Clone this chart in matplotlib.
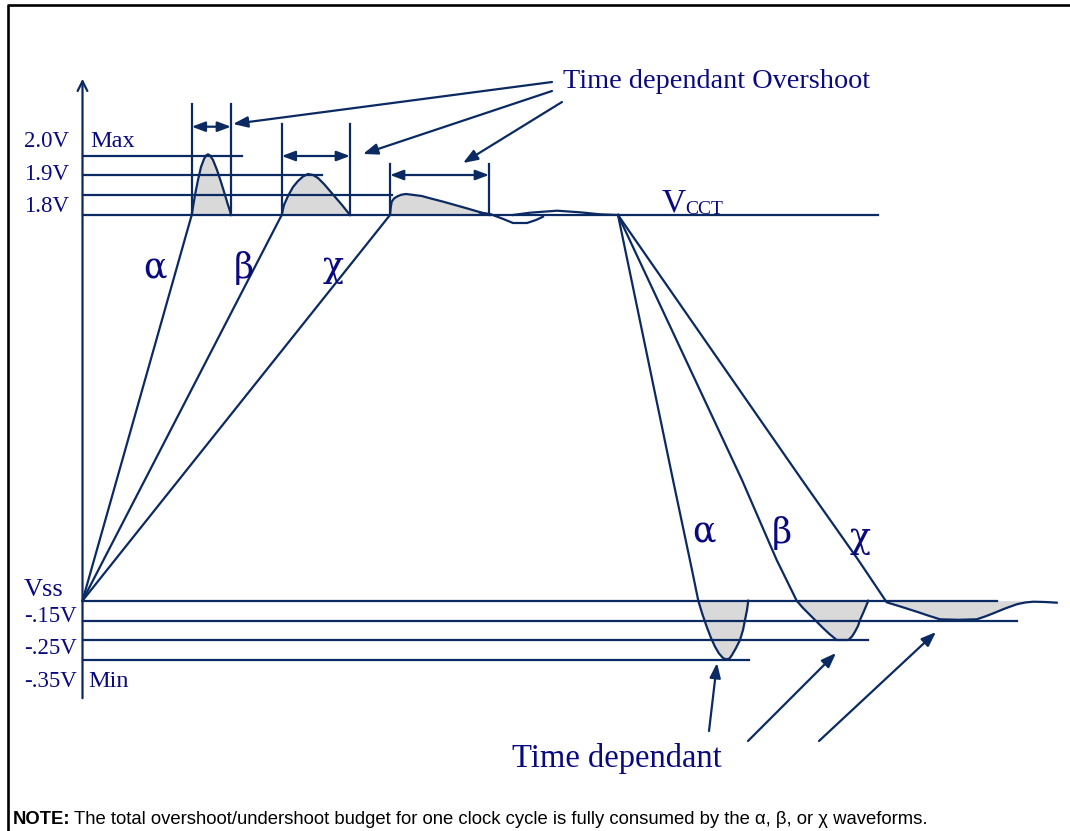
import numpy as np
import matplotlib.pyplot as plt

##colours and fonts
line_c = '#0b2a62'
text_c = '#0a0a80'
fill_c = '#d9d9d9'
serif = ['Liberation Serif', 'DejaVu Serif']
sans = ['Liberation Sans', 'DejaVu Sans']

##levels (diagram y units = pixels from top)
level_names = ['2.0V', '1.9V', '1.8V', 'VCCT', 'Vss', '-.15V', '-.25V', '-.35V']
level_y = [155.7, 175.3, 195, 215, 600.7, 620.7, 640, 660]
level_end = [242, 322, 392, 878, 997, 1017, 868, 749]
axis_x = 82.5

##rising edges + overshoot
rise_alpha_x = [82.5, 191.7, 195, 198, 201, 204, 206, 208, 210, 213, 217, 221, 225, 228, 230, 231]
rise_alpha_y = [600.7, 215, 195, 180, 167, 159, 155.5, 154.3, 155.5, 160, 170, 182, 195, 205, 211, 215]
rise_beta_x = [82.5, 281.7, 284, 288, 293, 298, 303, 308, 313, 318, 324, 330, 336, 342, 350]
rise_beta_y = [600.7, 215, 205, 196, 187, 181, 176.5, 174, 175, 178, 184, 191, 198, 205, 215]
rise_chi_x = [82.5, 390, 390.8, 391.7, 394, 396.7, 401, 406, 414, 421.7, 432, 443.3, 455, 466.7, 478, 490]
rise_chi_y = [600.7, 215, 207, 201.7, 198.5, 196.7, 194.8, 194, 195, 196, 198.8, 201.7, 205, 208.3, 211.6, 215]

##ringing after chi
ring1_x = [480, 490, 502, 513, 527, 536, 543]
ring1_y = [212.7, 214, 218.5, 223, 223, 220, 216.7]
ring2_x = [513, 530, 557, 580, 600, 618]
ring2_y = [215, 212.7, 210.7, 212.3, 214.3, 215]

##falling edges + undershoot
fall_alpha_x = [618, 673, 692, 698.3, 702, 706.7, 711, 715, 719, 723.3, 726.7, 729.5, 732, 736, 740, 743, 745, 747, 748.3]
fall_alpha_y = [215, 480, 570, 600.7, 613, 626.7, 638, 646.7, 653.5, 658.3, 659.3, 658.5, 655, 648, 640, 630, 620, 610, 600.7]
fall_beta_x = [618, 742, 776.7, 796.7, 803, 810, 817, 823.3, 830, 836.7, 848.3, 852, 855, 858, 860, 864, 868.3]
fall_beta_y = [215, 480, 560, 600.7, 608, 615, 622, 628.3, 634.5, 640, 640, 636.5, 631.7, 626, 620, 611, 600.7]
fall_chi_x = [618, 802, 858.3, 886.7, 902, 916.7, 928, 940, 958, 976.7, 985, 993.3, 1005, 1016.7, 1025, 1033.3, 1045, 1056.7]
fall_chi_y = [215, 480, 560, 602.3, 607, 611.7, 615.5, 619.3, 619.8, 619.3, 616.5, 613.3, 608.5, 604.3, 602.5, 601.7, 602, 602.7]

##time brackets (left, right, top, arrow y)
brackets = [(191.7, 231, 104, 126.7), (281.7, 350, 124, 156), (390, 489, 164, 175)]

##callout arrows (tail -> tip)
over_arrows = [((552, 82), (233, 124)), ((552, 91), (363, 154)), ((562, 102), (463, 163))]
under_arrows = [((709, 731), (717, 663)), ((748, 741), (836, 653)), ((819, 741), (936, 632))]

##set up the figure in pixel units
fig = plt.figure(figsize=(10.7, 8.31), dpi=100)
ax = fig.add_axes([0, 0, 1, 1])
ax.set_xlim(0, 1070)
ax.set_ylim(831, 0)
ax.axis('off')

##frame
ax.plot([7.5, 7.5, 1070], [831, 4.5, 4.5], color='black', lw=1.9, solid_capstyle='projecting')

##grey fills
def shade(xs, ys, base, i0):
    x = np.array(xs[i0:])
    y = np.array(ys[i0:])
    if base < 400:
        ax.fill_between(x, y, base, where=y <= base, color=fill_c, lw=0, interpolate=True)
    else:
        ax.fill_between(x, y, base, where=y >= base, color=fill_c, lw=0, interpolate=True)

shade(rise_alpha_x, rise_alpha_y, 215, 1)
shade(rise_beta_x, rise_beta_y, 215, 1)
shade(rise_chi_x, rise_chi_y, 215, 1)
shade(fall_alpha_x, fall_alpha_y, 600.7, 3)
shade(fall_beta_x, fall_beta_y, 600.7, 3)
shade(fall_chi_x, fall_chi_y, 600.7, 3)

##level lines
for y, x2 in zip(level_y, level_end):
    ax.plot([axis_x, x2], [y, y], color=line_c, lw=1.6)

##y axis
ax.annotate('', xy=(axis_x, 76), xytext=(axis_x, 701),
            arrowprops=dict(arrowstyle='->,head_length=0.7,head_width=0.35', color=line_c, lw=1.6))

##waveforms
for xs, ys in [(rise_alpha_x, rise_alpha_y), (rise_beta_x, rise_beta_y), (rise_chi_x, rise_chi_y),
               (ring1_x, ring1_y), (ring2_x, ring2_y),
               (fall_alpha_x, fall_alpha_y), (fall_beta_x, fall_beta_y), (fall_chi_x, fall_chi_y)]:
    ax.plot(xs, ys, color=line_c, lw=1.6, solid_joinstyle='round')

##brackets
for xl, xr, top, ya in brackets:
    ax.plot([xl, xl], [top, 215], color=line_c, lw=1.6)
    ax.plot([xr, xr], [top, 215], color=line_c, lw=1.6)
    ax.annotate('', xy=(xr, ya), xytext=(xl, ya),
                arrowprops=dict(arrowstyle='<|-|>,head_length=0.8,head_width=0.3', color=line_c,
                                lw=1.6, shrinkA=0, shrinkB=0, mutation_scale=10))

##callouts
for (tx, ty), (hx, hy) in over_arrows + under_arrows:
    ax.annotate('', xy=(hx, hy), xytext=(tx, ty),
                arrowprops=dict(arrowstyle='-|>,head_length=0.8,head_width=0.3', color=line_c,
                                lw=1.6, shrinkA=0, shrinkB=0, mutation_scale=11))

##level labels
lab = dict(color=text_c, family=serif, fontsize=16.5, va='baseline')
ax.text(24, 147, '2.0V', **lab)
ax.text(90, 147, 'Max', color=text_c, family=serif, fontsize=17.5, va='baseline')
ax.text(24, 180, '1.9V', **lab)
ax.text(24, 212, '1.8V', **lab)
ax.text(24, 596, 'Vss', color=text_c, family=serif, fontsize=19, va='baseline')
ax.text(24, 622, '-.15V', **lab)
ax.text(24, 654, '-.25V', **lab)
ax.text(24, 687, '-.35V', **lab)
ax.text(88, 687, 'Min', color=text_c, family=serif, fontsize=17.5, va='baseline')

ax.text(662, 211.7, 'V', color=text_c, family=serif, fontsize=24, va='baseline')
ax.text(685, 214, 'CCT', color=text_c, family=serif, fontsize=14, va='baseline')

##greek labels
greek = dict(color=text_c, family=['DejaVu Serif'], fontsize=25, ha='center', va='center')
for (gx, gy), g in zip([(155, 268), (244, 268), (333, 267), (704, 532), (782, 533), (860, 538)],
                       ['α', 'β', 'χ', 'α', 'β', 'χ']):
    ax.text(gx, gy, g, **greek)

##titles
ax.text(563, 88, 'Time dependant Overshoot', color=text_c, family=serif, fontsize=20.3, va='baseline')
ax.text(512, 767, 'Time dependant', color=text_c, family=serif, fontsize=23.5, va='baseline')

##note
t1 = ax.text(13, 824, 'NOTE:', color='black', family=sans, fontsize=13.3, fontweight='bold', va='baseline')
fig.canvas.draw()
bb = t1.get_window_extent().transformed(ax.transData.inverted())
ax.text(bb.x1 + 4, 824, 'The total overshoot/undershoot budget for one clock cycle is fully consumed by the α, β, or χ waveforms.',
        color='black', family=sans, fontsize=13.3, va='baseline')

fig.savefig('out.png', dpi=100)
